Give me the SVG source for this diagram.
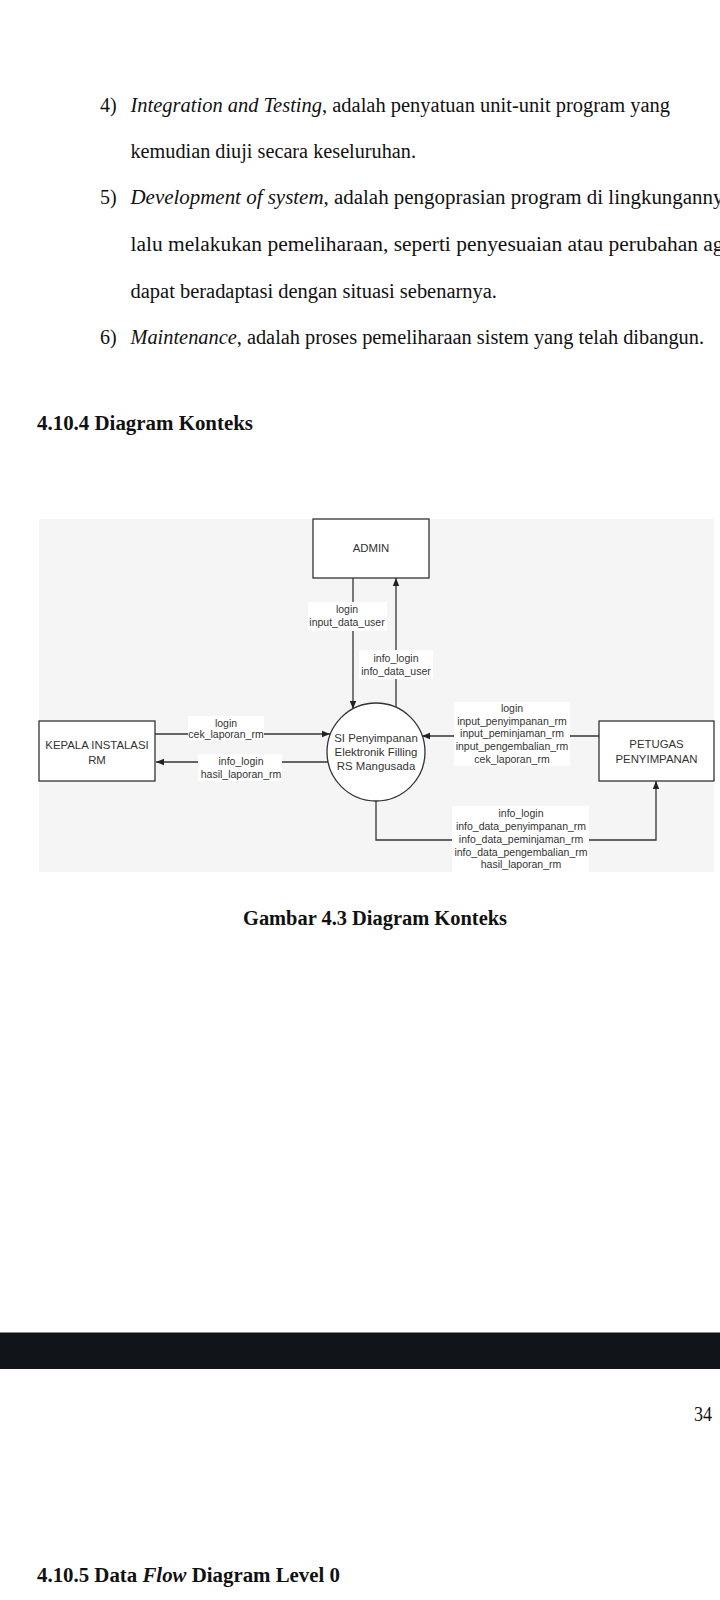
<svg xmlns="http://www.w3.org/2000/svg" width="720" height="1600" viewBox="0 0 720 1600">
<style>
.body{font-family:"Liberation Serif","Times New Roman",serif;font-size:20px;fill:#111}
.it{font-style:italic}
.hd{font-family:"Liberation Serif","Times New Roman",serif;font-size:20px;font-weight:bold;fill:#111}
.node{fill:#fff;stroke:#333;stroke-width:1.3}
.nt{font-family:"Liberation Sans",Arial,sans-serif;font-size:11.4px;fill:#333;text-anchor:middle}
.lt{font-family:"Liberation Sans",Arial,sans-serif;font-size:10.5px;fill:#333;text-anchor:middle}
.lbg{fill:#fff}
.cn{fill:none;stroke:#333;stroke-width:1.3}
</style>
<defs>
<marker id="ah" viewBox="0 0 10 10" refX="10" refY="5" markerWidth="8" markerHeight="8" orient="auto" markerUnits="userSpaceOnUse">
<path d="M0,1 L10,5 L0,9 z" fill="#222"/>
</marker>
</defs>
<rect width="720" height="1600" fill="#fff"/>

<g id="text-body">
<text class="body" x="100" y="112">4)</text>
<text class="body" x="130.5" y="112" textLength="539.5" lengthAdjust="spacingAndGlyphs"><tspan class="it">Integration and Testing</tspan>, adalah penyatuan unit-unit program yang</text>
<text class="body" x="130.5" y="158" textLength="285.5" lengthAdjust="spacingAndGlyphs">kemudian diuji secara keseluruhan.</text>
<text class="body" x="100" y="204">5)</text>
<text class="body" x="130.5" y="204" textLength="593" lengthAdjust="spacingAndGlyphs"><tspan class="it">Development of system</tspan>, adalah pengoprasian program di lingkunganny</text>
<text class="body" x="130.5" y="251" textLength="593" lengthAdjust="spacingAndGlyphs">lalu melakukan pemeliharaan, seperti penyesuaian atau perubahan ag</text>
<text class="body" x="130.5" y="298" textLength="366.5" lengthAdjust="spacingAndGlyphs">dapat beradaptasi dengan situasi sebenarnya.</text>
<text class="body" x="100" y="344">6)</text>
<text class="body" x="130.5" y="344" textLength="573.5" lengthAdjust="spacingAndGlyphs"><tspan class="it">Maintenance</tspan>, adalah proses pemeliharaan sistem yang telah dibangun.</text>
<text class="hd" x="37" y="430" textLength="216" lengthAdjust="spacingAndGlyphs">4.10.4  Diagram Konteks</text>
</g>

<rect id="diagram-bg" x="39" y="519" width="675" height="353" fill="#f5f5f5"/>

<g id="connectors">
<line class="cn" x1="353" y1="578" x2="353" y2="709" marker-end="url(#ah)"/>
<line class="cn" x1="396" y1="707" x2="396" y2="578" marker-end="url(#ah)"/>
<line class="cn" x1="155" y1="734" x2="330" y2="734" marker-end="url(#ah)"/>
<line class="cn" x1="328" y1="762" x2="156" y2="762" marker-end="url(#ah)"/>
<line class="cn" x1="599" y1="736" x2="422" y2="736" marker-end="url(#ah)"/>
<polyline class="cn" points="376,801 376,840 656,840 656,781" marker-end="url(#ah)"/>

<g id="labels">
<rect class="lbg" x="308" y="602" width="79" height="29"/>
<text class="lt" x="347" y="613">login</text>
<text class="lt" x="347" y="626">input_data_user</text>

<rect class="lbg" x="359" y="650" width="74" height="29"/>
<text class="lt" x="396" y="662">info_login</text>
<text class="lt" x="396" y="675">info_data_user</text>

<rect class="lbg" x="188" y="716" width="76" height="24"/>
<text class="lt" x="226" y="727">login</text>
<text class="lt" x="226" y="738">cek_laporan_rm</text>

<rect class="lbg" x="198" y="754" width="84" height="27"/>
<text class="lt" x="241" y="765">info_login</text>
<text class="lt" x="241" y="778">hasil_laporan_rm</text>

<rect class="lbg" x="454" y="702" width="116" height="64"/>
<text class="lt" x="512" y="712">login</text>
<text class="lt" x="512" y="725">input_penyimpanan_rm</text>
<text class="lt" x="512" y="737">input_peminjaman_rm</text>
<text class="lt" x="512" y="750">input_pengembalian_rm</text>
<text class="lt" x="512" y="763">cek_laporan_rm</text>

<rect class="lbg" x="452" y="806" width="137" height="66"/>
<text class="lt" x="521" y="817">info_login</text>
<text class="lt" x="521" y="830">info_data_penyimpanan_rm</text>
<text class="lt" x="521" y="843">info_data_peminjaman_rm</text>
<text class="lt" x="521" y="856">info_data_pengembalian_rm</text>
<text class="lt" x="521" y="868">hasil_laporan_rm</text>
</g>
</g>

<g id="node-admin">
<rect class="node" x="313" y="519" width="116" height="59"/>
<text class="nt" x="371" y="552">ADMIN</text>
</g>

<g id="node-si">
<circle class="node" cx="376" cy="752" r="49"/>
<text class="nt" x="376" y="742">SI Penyimpanan</text>
<text class="nt" x="376" y="756">Elektronik Filling</text>
<text class="nt" x="376" y="770">RS Mangusada</text>
</g>

<g id="node-kepala">
<rect class="node" x="39" y="721" width="116" height="60"/>
<text class="nt" x="97" y="749">KEPALA INSTALASI</text>
<text class="nt" x="97" y="764">RM</text>
</g>

<g id="node-petugas">
<rect class="node" x="599" y="721" width="115" height="60"/>
<text class="nt" x="656.5" y="748">PETUGAS</text>
<text class="nt" x="656.5" y="763">PENYIMPANAN</text>
</g>

<g id="page-rest">
<text class="hd" x="243" y="925" textLength="264" lengthAdjust="spacingAndGlyphs">Gambar 4.3 Diagram Konteks</text>
<rect x="0" y="1332" width="720" height="1" fill="#888"/>
<rect x="0" y="1333" width="720" height="36" fill="#11151a"/>
<text class="body" x="694" y="1421" textLength="18" lengthAdjust="spacingAndGlyphs">34</text>
<text class="hd" x="37" y="1582" textLength="303" lengthAdjust="spacingAndGlyphs">4.10.5  Data <tspan class="it">Flow</tspan> Diagram Level 0</text>
</g>
</svg>
